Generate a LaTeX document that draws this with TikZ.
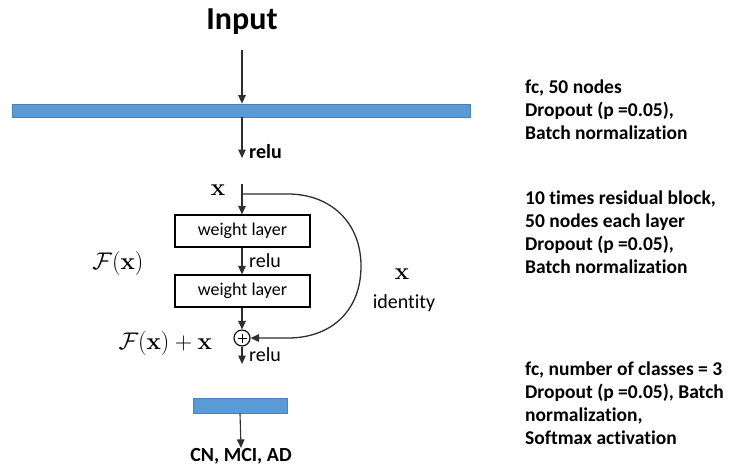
\documentclass[tikz,border=0pt]{standalone}
\usepackage{graphicx}
\usepackage[no-math]{fontspec}
\setmainfont{Carlito}[RawFeature={-liga;-clig;-calt;-dlig}]
\usetikzlibrary{arrows.meta}
\definecolor{barblue}{HTML}{5B9BD5}
\definecolor{baredge}{HTML}{4A82B8}
\definecolor{linegray}{HTML}{2E2E2E}
\newcommand{\bigmath}[1]{\scalebox{1.16}{$#1$}}
\tikzset{
  flow/.style={draw=linegray, line width=1.1pt, -{Triangle[length=8.5pt,width=7.5pt]}},
  bar/.style={draw=baredge, fill=barblue, line width=0.8pt, inner sep=0pt},
  wbox/.style={draw=black, line width=1.2pt, minimum width=135pt, minimum height=32pt, inner sep=0pt, font=\fontsize{18}{21}\selectfont},
  lbl/.style={inner sep=0pt, font=\fontsize{20}{24}\selectfont},
  blbl/.style={inner sep=0pt, font=\fontsize{20}{24}\selectfont\bfseries},
  note/.style={inner sep=0pt, align=left, anchor=west, font=\fontsize{19.5}{23}\selectfont\bfseries},
  mathlbl/.style={inner sep=0pt, font=\fontsize{20}{24}\selectfont},
  sumnode/.style={circle, draw=black, line width=1.1pt, minimum size=16pt, inner sep=0pt,
    path picture={\draw[line width=1pt] ([xshift=-4.5pt]path picture bounding box.center) -- ([xshift=4.5pt]path picture bounding box.center);
                  \draw[line width=1pt] ([yshift=-4.5pt]path picture bounding box.center) -- ([yshift=4.5pt]path picture bounding box.center);}}
}
\begin{document}
\begin{tikzpicture}[x=1pt,y=-1pt]
\useasboundingbox (0,0) rectangle (730,475);

% input and first fully connected layer
\node[blbl, font=\fontsize{32}{36}\selectfont\bfseries] (input) at (242,22) {Input};
\coordinate (inbot) at (242,50);
\node[bar, minimum width=458pt, minimum height=13pt] (bar1) at (241,110.5) {};
\coordinate (r1end) at (242,158);
\node[blbl, anchor=west] (relu1) at (249,152) {relu};
\draw[flow] (inbot) -- (bar1.north -| inbot);
\draw[flow] (bar1.south -| inbot) -- (r1end);

% residual block
\coordinate (xtop) at (242,184);
\coordinate (split) at (242,194);
\node[mathlbl] (xin) at (218,190) {\bigmath{\mathbf{x}}};
\node[wbox] (w1) at (242.5,231) {weight layer};
\node[wbox] (w2) at (242.5,291) {weight layer};
\node[lbl, anchor=west] (relu2) at (249,261) {relu};
\node[mathlbl] (fx) at (118,263) {\bigmath{\mathcal{F}(\mathbf{x})}};
\node[sumnode] (sum) at (242,338) {};
\node[mathlbl, anchor=east] (fxx) at (212,343) {\bigmath{\mathcal{F}(\mathbf{x}) + \mathbf{x}}};
\coordinate (r3end) at (242,364);
\node[lbl, anchor=west] (relu3) at (249,355) {relu};
\node[mathlbl] (xid) at (402,274) {\bigmath{\mathbf{x}}};
\node[lbl] (ident) at (404,303) {identity};

\draw[flow] (xtop) -- (w1.north -| xtop);
\draw[flow] (w1.south -| xtop) -- (w2.north -| xtop);
\draw[flow] (w2.south -| xtop) -- (sum.north);
\draw[flow] (sum.south) -- (r3end);
\draw[flow, line width=1.3pt] (split) -- (288,194)
  .. controls (330,194) and (361,222) .. (361,266)
  .. controls (361,312) and (330,338) .. (288,338) -- (sum.east);

% output layer
\node[bar, minimum width=94pt, minimum height=15pt] (bar2) at (240,405.5) {};
\node[blbl] (out) at (241,456) {CN, MCI, AD};
\draw[flow] (bar2.south) -- (out.north);

% layer descriptions
\node[note] (n1) at (525,110) {fc, 50 nodes\\Dropout (p =0.05),\\Batch normalization};
\node[note] (n2) at (525,232.5) {10 times residual block,\\50 nodes each layer\\Dropout (p =0.05),\\Batch normalization};
\node[note] (n3) at (525,403) {fc, number of classes = 3\\Dropout (p =0.05), Batch\\normalization,\\Softmax activation};
\end{tikzpicture}
\end{document}
